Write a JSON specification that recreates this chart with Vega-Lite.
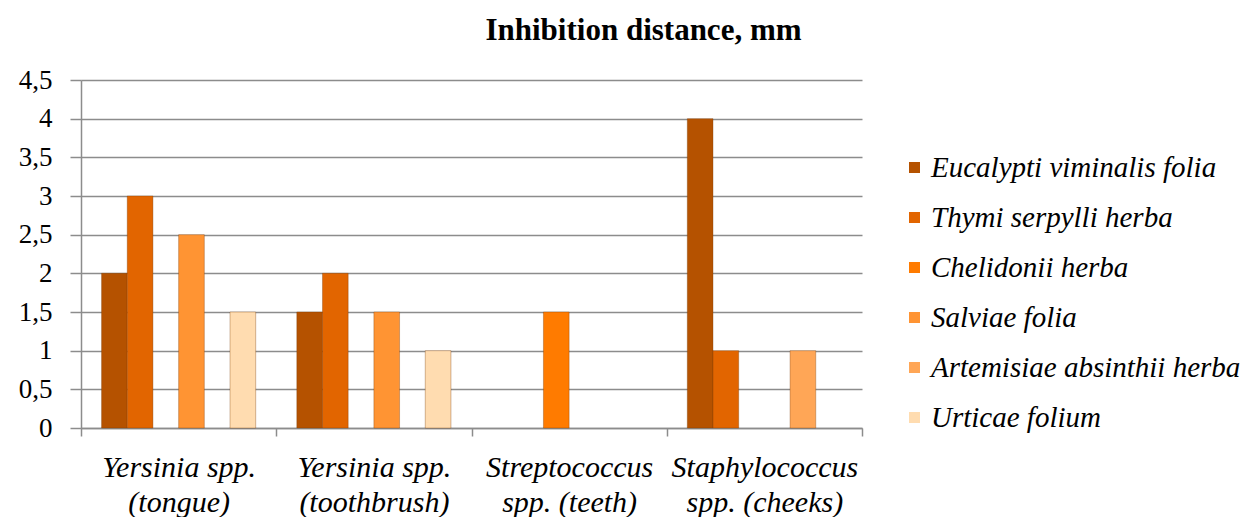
{
  "$schema": "https://vega.github.io/schema/vega-lite/v6.json",
  "width": 781,
  "height": 348,
  "autosize": "none",
  "padding": {"left": 81, "top": 80, "right": 391, "bottom": 89},
  "background": "white",
  "title": {"text": "Inhibition distance, mm", "font": "Liberation Serif", "fontSize": 31, "fontWeight": "bold", "color": "#000000", "anchor": "middle", "dx": 172, "offset": 19},
  "data": {"values": [
    {"group": "Yersinia spp.|(tongue)", "extract": "Eucalypti viminalis folia", "mm": 2},
    {"group": "Yersinia spp.|(tongue)", "extract": "Thymi serpylli  herba", "mm": 3},
    {"group": "Yersinia spp.|(tongue)", "extract": "Salviae folia", "mm": 2.5},
    {"group": "Yersinia spp.|(tongue)", "extract": "Urticae folium", "mm": 1.5},
    {"group": "Yersinia spp.|(toothbrush)", "extract": "Eucalypti viminalis folia", "mm": 1.5},
    {"group": "Yersinia spp.|(toothbrush)", "extract": "Thymi serpylli  herba", "mm": 2},
    {"group": "Yersinia spp.|(toothbrush)", "extract": "Salviae folia", "mm": 1.5},
    {"group": "Yersinia spp.|(toothbrush)", "extract": "Urticae folium", "mm": 1},
    {"group": "Streptococcus|spp. (teeth)", "extract": "Chelidonii herba", "mm": 1.5},
    {"group": "Staphylococcus|spp. (cheeks)", "extract": "Eucalypti viminalis folia", "mm": 4},
    {"group": "Staphylococcus|spp. (cheeks)", "extract": "Thymi serpylli  herba", "mm": 1},
    {"group": "Staphylococcus|spp. (cheeks)", "extract": "Artemisiae absinthii herba", "mm": 1}
  ]},
  "mark": {"type": "bar", "stroke": "#7a3800", "strokeOpacity": 0.35, "strokeWidth": 1},
  "encoding": {
    "x": {
      "field": "group", "type": "nominal", "sort": null,
      "scale": {"domain": ["Yersinia spp.|(tongue)", "Yersinia spp.|(toothbrush)", "Streptococcus|spp. (teeth)", "Staphylococcus|spp. (cheeks)"], "paddingInner": 0, "paddingOuter": 0},
      "axis": {
        "title": null, "labelAngle": 0, "tickBand": "extent", "grid": false,
        "labelExpr": "split(datum.label, '|')", "labelLimit": 0,
        "labelFont": "Liberation Serif", "labelFontStyle": "italic", "labelFontSize": 30, "labelColor": "#000000",
        "labelLineHeight": 35, "labelPadding": 16, "labelBaseline": "top",
        "domainColor": "#8c8c8c", "domainWidth": 1.5, "tickColor": "#8c8c8c", "tickWidth": 1.5, "tickSize": 8
      }
    },
    "xOffset": {
      "field": "extract", "type": "nominal",
      "scale": {"domain": ["Eucalypti viminalis folia", "Thymi serpylli  herba", "Chelidonii herba", "Salviae folia", "Artemisiae absinthii herba", "Urticae folium"], "paddingInner": 0, "paddingOuter": 0.8}
    },
    "y": {
      "field": "mm", "type": "quantitative",
      "scale": {"domain": [0, 4.5], "nice": false},
      "axis": {
        "title": null, "values": [0, 0.5, 1, 1.5, 2, 2.5, 3, 3.5, 4, 4.5],
        "labelExpr": "replace(toString(datum.value), '.', ',')",
        "labelFont": "Liberation Serif", "labelFontSize": 27, "labelColor": "#000000", "labelPadding": 18,
        "grid": true, "gridColor": "#8c8c8c", "gridWidth": 1.5,
        "domainColor": "#8c8c8c", "domainWidth": 1.5, "tickColor": "#8c8c8c", "tickWidth": 1.5, "tickSize": 11
      }
    },
    "color": {
      "field": "extract", "type": "nominal",
      "scale": {
        "domain": ["Eucalypti viminalis folia", "Thymi serpylli  herba", "Chelidonii herba", "Salviae folia", "Artemisiae absinthii herba", "Urticae folium"],
        "range": ["#b55200", "#e26500", "#ff7b00", "#ff9433", "#ffa656", "#ffdcb0"]
      },
      "legend": {
        "title": null, "orient": "none", "legendX": 819, "legendY": 73,
        "symbolType": "square", "symbolSize": 121, "symbolStrokeWidth": 0, "symbolOpacity": 1,
        "labelFont": "Liberation Serif", "labelFontStyle": "italic", "labelFontSize": 29, "labelColor": "#000000",
        "labelOffset": 2, "rowPadding": 20, "labelLimit": 0
      }
    }
  },
  "config": {"view": {"stroke": null}}
}
